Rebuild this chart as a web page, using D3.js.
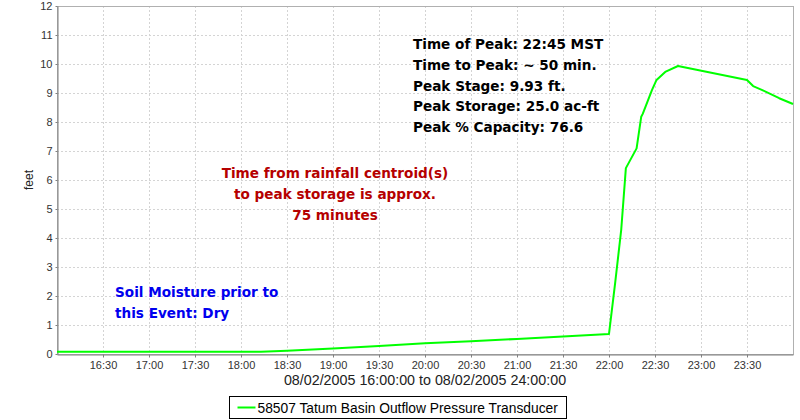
<!DOCTYPE html>
<html>
<head>
<meta charset="utf-8">
<script src="https://cdn.jsdelivr.net/npm/d3@7"></script>
<style>
  body { margin: 0; background: #fff; }
  svg { display: block; font-family: "Liberation Sans", Arial, sans-serif; }
  .grid line { stroke: #d4d4d4; stroke-dasharray: 2,2; }
  .note { font-family: "DejaVu Sans", sans-serif; font-weight: bold; font-size: 13.6px; }
</style>
</head>
<body>
<div id="app"></div>
<script>
// readings of the pressure transducer, 08/02/2005
const times = ["16:00", "18:13", "18:30", "19:00", "19:30", "20:00", "20:30", "21:00", "21:30",
  "22:00", "22:04", "22:08", "22:11", "22:18", "22:21", "22:22", "22:28", "22:31", "22:37",
  "22:45", "23:30", "23:34", "23:40", "23:51", "24:00"];
const feet = [0.08, 0.08, 0.11, 0.19, 0.28, 0.37, 0.44, 0.52, 0.60,
  0.69, 2.44, 4.3, 6.41, 7.09, 8.18, 8.28, 9.1, 9.45, 9.74,
  9.93, 9.45, 9.24, 9.1, 8.82, 8.62];

const xTickLabels = ["16:30", "17:00", "17:30", "18:00", "18:30", "19:00", "19:30", "20:00",
  "20:30", "21:00", "21:30", "22:00", "22:30", "23:00", "23:30"];
const yTicks = [0, 1, 2, 3, 4, 5, 6, 7, 8, 9, 10, 11, 12];

const peakNotes = ["Time of Peak: 22:45 MST", "Time to Peak: ~ 50 min.", "Peak Stage: 9.93 ft.",
  "Peak Storage: 25.0 ac-ft", "Peak % Capacity: 76.6"];
const rainNotes = ["Time from rainfall centroid(s)", "to peak storage is approx.", "75 minutes"];
const soilNotes = ["Soil Moisture prior to", "this Event: Dry"];
const seriesName = "58507 Tatum Basin Outflow Pressure Transducer";

const toDate = (s) => {
  const [h, m] = s.split(":").map(Number);
  return new Date(2005, 7, 2, 0, h * 60 + m);
};
const data = times.map((t, i) => ({ t: toDate(t), v: feet[i] }));

const width = 800, height = 420;
const margin = { top: 6, right: 7, bottom: 66, left: 57 };

const svg = d3.select("#app").append("svg")
  .attr("width", width)
  .attr("height", height);

const x = d3.scaleTime()
  .domain([toDate("16:00"), toDate("24:00")])
  .range([margin.left, width - margin.right]);
const y = d3.scaleLinear()
  .domain([0, 12])
  .range([height - margin.bottom, margin.top]);

const xTicks = xTickLabels.map(toDate);

//grid
svg.append("g").attr("class", "grid")
  .selectAll("line").data(yTicks.slice(1)).enter().append("line")
  .attr("x1", margin.left).attr("x2", width - margin.right)
  .attr("y1", (d) => y(d) + 0.5).attr("y2", (d) => y(d) + 0.5);
svg.append("g").attr("class", "grid")
  .selectAll("line").data(xTicks).enter().append("line")
  .attr("x1", (d) => Math.round(x(d)) + 0.5).attr("x2", (d) => Math.round(x(d)) + 0.5)
  .attr("y1", margin.top).attr("y2", height - margin.bottom);

//plot outline
svg.append("rect")
  .attr("x", margin.left + 0.5).attr("y", margin.top + 0.5)
  .attr("width", width - margin.left - margin.right)
  .attr("height", height - margin.top - margin.bottom)
  .attr("fill", "none").attr("stroke", "#b0b0b0");

//axes
const xAxis = svg.append("g")
  .attr("transform", `translate(0,${height - margin.bottom + 0.5})`)
  .call(d3.axisBottom(x).tickValues(xTicks).tickFormat(d3.timeFormat("%H:%M"))
    .tickSizeInner(3).tickSizeOuter(0).tickPadding(4));
const yAxis = svg.append("g")
  .attr("transform", `translate(${margin.left + 0.5},0)`)
  .call(d3.axisLeft(y).tickValues(yTicks).tickFormat(d3.format("d"))
    .tickSizeInner(2).tickSizeOuter(0).tickPadding(3));
[xAxis, yAxis].forEach((a) => {
  a.select(".domain").attr("stroke", "#808080");
  a.selectAll(".tick line").attr("stroke", "#808080");
  a.selectAll(".tick text").attr("font-size", 11).attr("fill", "#333")
    .attr("font-family", "'Liberation Sans', Arial, sans-serif");
});

svg.append("text")
  .attr("transform", `translate(33,${y(6)}) rotate(-90)`)
  .attr("text-anchor", "middle")
  .attr("font-size", 12)
  .attr("fill", "#222")
  .text("feet");

svg.append("text")
  .attr("x", (x.range()[0] + x.range()[1]) / 2)
  .attr("y", 385)
  .attr("text-anchor", "middle")
  .attr("font-size", 14.3)
  .attr("fill", "#222")
  .text("08/02/2005 16:00:00 to 08/02/2005 24:00:00");

//series line
svg.append("path")
  .datum(data)
  .attr("fill", "none")
  .attr("stroke", "#00ff00")
  .attr("stroke-width", 2)
  .attr("stroke-linejoin", "round")
  .attr("d", d3.line().x((d) => x(d.t)).y((d) => y(d.v)));

//annotations
svg.append("g").selectAll("text").data(peakNotes).enter().append("text")
  .attr("class", "note")
  .attr("x", 413)
  .attr("y", (d, i) => 49 + i * 20.8)
  .attr("fill", "#000")
  .text((d) => d);

svg.append("g").selectAll("text").data(rainNotes).enter().append("text")
  .attr("class", "note")
  .attr("x", 335)
  .attr("y", (d, i) => 178 + i * 21)
  .attr("text-anchor", "middle")
  .attr("fill", "#b50000")
  .text((d) => d);

svg.append("g").selectAll("text").data(soilNotes).enter().append("text")
  .attr("class", "note")
  .attr("x", 115)
  .attr("y", (d, i) => 297 + i * 21)
  .attr("fill", "#0000ee")
  .text((d) => d);

//legend
const legend = svg.append("g").attr("transform", "translate(229.5,396.5)");
legend.append("rect")
  .attr("width", 337).attr("height", 22)
  .attr("fill", "#fff").attr("stroke", "#000");
legend.append("line")
  .attr("x1", 8).attr("x2", 26).attr("y1", 11).attr("y2", 11)
  .attr("stroke", "#00ff00").attr("stroke-width", 2);
legend.append("text")
  .attr("x", 28).attr("y", 16)
  .attr("font-size", 13.8)
  .attr("fill", "#000")
  .text(seriesName);
</script>
</body>
</html>
